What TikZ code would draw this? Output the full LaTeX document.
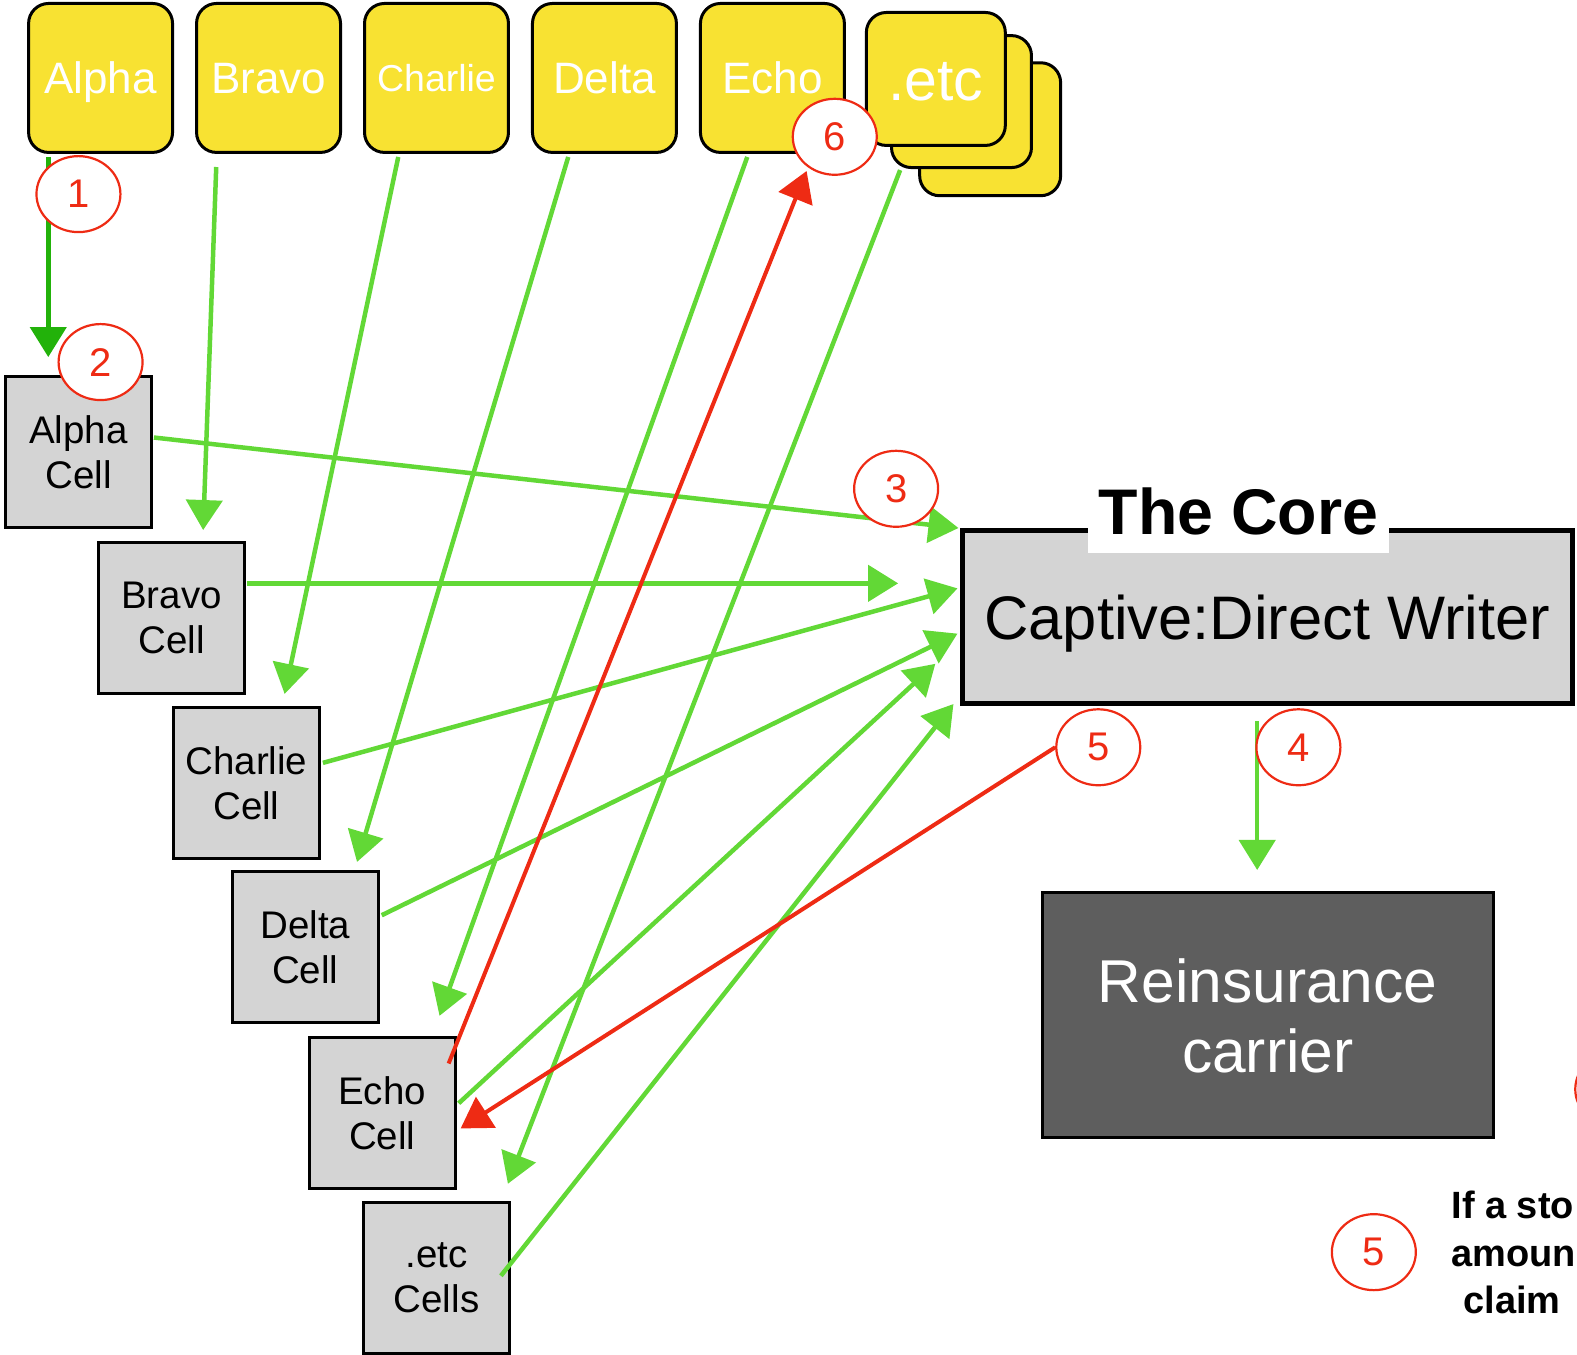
\documentclass[tikz,border=0pt]{standalone}
\usepackage{fontspec}
\setmainfont{Liberation Sans}
\usetikzlibrary{arrows.meta,shapes.geometric,calc}
\definecolor{yel}{HTML}{F8E232}
\definecolor{cellgray}{HTML}{D4D4D4}
\definecolor{darkfill}{HTML}{5E5E5E}
\definecolor{lgreen}{HTML}{62D836}
\definecolor{dgreen}{HTML}{22B20A}
\definecolor{cred}{HTML}{EE2B14}
\begin{document}
\begin{tikzpicture}[x=1.006pt,y=-1.006pt,
  ybox/.style={draw=black,line width=3pt,fill=yel,rounded corners=20pt,
    minimum width=144pt,minimum height=149pt,inner sep=0pt,text=white,
    font=\fontsize{44}{50}\selectfont,text height=32pt,text depth=0pt},
  cellbox/.style={draw=black,line width=3pt,fill=cellgray,minimum width=146pt,
    minimum height=151pt,inner sep=0pt,align=center,
    font=\fontsize{38.5}{45}\selectfont},
  circ/.style={ellipse,draw=cred,line width=2.2pt,fill=white,minimum width=84pt,
    minimum height=76pt,inner sep=0pt,text=cred,font=\fontsize{40}{44}\selectfont},
  garrow/.style={draw=lgreen,line width=4.5pt,-{Triangle[length=30pt,width=36pt]}},
  darrow/.style={draw=dgreen,line width=4.5pt,-{Triangle[length=30pt,width=36pt]}},
  rarrow/.style={draw=cred,line width=4pt,-{Triangle[length=30pt,width=36pt]}},
  note/.style={anchor=base west,inner sep=0pt,font=\bfseries\fontsize{38}{45}\selectfont}
]
\useasboundingbox (0,0) rectangle (1568,1347);
\clip (0,0) rectangle (1568,1347);

% top yellow boxes
\node[ybox] (alpha) at (100,77.5) {Alpha};
\node[ybox] (bravo) at (267,77.5) {Bravo};
\node[ybox,font=\fontsize{37.5}{42}\selectfont,text height=28pt] (charlie) at (434,77.5) {Charlie};
\node[ybox] (delta) at (601,77.5) {Delta};
\node[ybox] (echo) at (768,77.5) {Echo};
\node[ybox,minimum width=141pt,minimum height=133pt] (etcc) at (984.5,128.5) {};
\node[ybox,minimum width=140pt,minimum height=132pt] (etcb) at (956,101) {};
\node[ybox,minimum width=139pt,minimum height=133pt,
  font=\fontsize{59}{64}\selectfont,text height=43pt] (etca) at (930.5,78.5) {.etc};

% cells
\node[cellbox] (acell) at (78,449.5) {Alpha\\Cell};
\node[cellbox] (bcell) at (170.5,614) {Bravo\\Cell};
\node[cellbox] (ccell) at (245,778.5) {Charlie\\Cell};
\node[cellbox] (dcell) at (303.5,942) {Delta\\Cell};
\node[cellbox] (ecell) at (380,1107) {Echo\\Cell};
\node[cellbox] (xcell) at (434,1270.5) {.etc\\Cells};

% core
\node[draw=black,line width=5pt,fill=cellgray,minimum width=610pt,minimum height=173pt,
  inner sep=0pt,font=\fontsize{61.5}{70}\selectfont,text height=45pt,text depth=0pt]
  (core) at (1260,613.5) {Captive:Direct Writer};
\node[fill=white,minimum width=301pt,minimum height=82pt,inner sep=0pt,
  font=\bfseries\fontsize{64.5}{70}\selectfont,text height=46pt,text depth=0pt]
  (title) at (1231.5,509) {The Core};

% reinsurance
\node[draw=black,line width=3pt,fill=darkfill,text=white,minimum width=451pt,
  minimum height=245pt,inner sep=0pt,align=center,font=\fontsize{60.5}{70}\selectfont]
  (reins) at (1260.5,1009.5) {\raisebox{0pt}[44pt][0pt]{}Reinsurance\\carrier};

% tips
\coordinate (t1) at (48,355);
\coordinate (t2) at (202,527);
\coordinate (t3) at (283,690);
\coordinate (t4) at (355,857);
\coordinate (t5) at (437,1010);
\coordinate (t6) at (505,1177);
\coordinate (u1) at (953,525);
\coordinate (u2) at (893,580);
\coordinate (u3) at (952,585);
\coordinate (u4) at (952,630);
\coordinate (u5) at (930,660);
\coordinate (u6) at (948,700);
\coordinate (v4) at (1250,865);
\coordinate (w6) at (802,170);
\coordinate (w5) at (458,1122);

% connectors from top boxes to cells
\draw[darrow] ($(alpha.south)+(-52,3)$) -- (t1);
\draw[garrow] ($(bravo.south)+(-52,13)$) -- (t2);
\draw[garrow] ($(charlie.south)+(-38,3)$) -- (t3);
\draw[garrow] ($(delta.south)+(-36,3)$) -- (t4);
\draw[garrow] ($(echo.south)+(-25,3)$) -- (t5);
\draw[garrow] ($(etcb.south)+(-61,1)$) -- (t6);

% connectors from cells to core
\draw[garrow] ($(acell.east)+(1,-14.5)$) -- (u1);
\draw[garrow] ($(bcell.east)+(1,-34)$) -- (u2);
\draw[garrow] ($(ccell.east)+(2,-20)$) -- (u3);
\draw[garrow] ($(dcell.east)+(2,-32)$) -- (u4);
\draw[garrow] ($(ecell.east)+(2,-10)$) -- (u5);
\draw[garrow] ($(xcell.east)+(-10,-2)$) -- (u6);

% core to reinsurance
\draw[garrow] ($(core.south)+(-10,15)$) -- (v4);

% circles
\node[circ] (n1) at (78,193) {1};
\node[circ] (n2) at (100,360) {2};
\node[circ] (n3) at (891,486) {3};
\node[circ] (n6) at (830,136) {6};
\node[circ] (n5) at (1092,743) {5};
\node[circ] (n4) at (1291,743) {4};
\node[circ] (n5b) at (1366,1245) {5};
\node[circ] (n7) at (1608,1083) {};

% red connectors
\draw[rarrow] ($(ecell.north east)+(-8,27)$) -- (w6);
\draw[rarrow] (n5.west) -- (w5);

% note text (cut at the right edge)
\node[note] (l1) at (1443,1212) {If a sto};
\node[note] (l2) at (1443,1259) {amoun};
\node[note] (l3) at (1455,1306) {claim};
\end{tikzpicture}
\end{document}
